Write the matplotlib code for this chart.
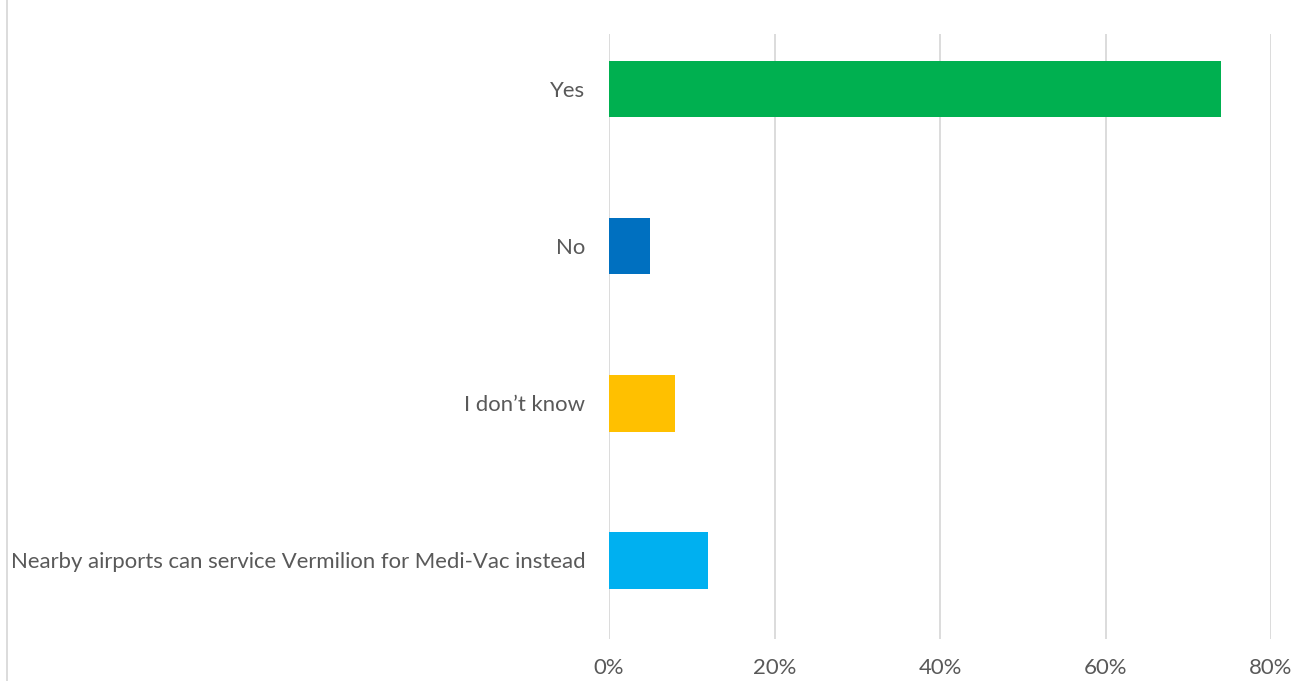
import matplotlib
matplotlib.use("Agg")
import matplotlib.pyplot as plt
import matplotlib.ticker as ticker
from matplotlib.lines import Line2D

# survey responses, top to bottom
answers = ["Yes", "No", "I don\u2019t know",
           "Nearby airports can service Vermilion for Medi-Vac instead"]
shares = [74, 5, 8, 12]
colors = ["#00B050", "#0070C0", "#FFC000", "#00B0F0"]
x_ticks = [0, 20, 40, 60, 80]

plt.rcParams["font.family"] = ["Lato", "DejaVu Sans"]

fig = plt.figure(figsize=(13.06, 6.81), dpi=100)
ax = fig.add_axes([609 / 1306, 42 / 681, 662 / 1306, 605 / 681])

pos = list(range(len(answers)))[::-1]
ax.barh(pos, [s / 100 for s in shares], height=0.36, color=colors, zorder=3)

ax.set_xlim(0, 0.8)
ax.set_ylim(-0.5, 3.35)
ax.set_yticks(pos)
ax.set_yticklabels(answers)
ax.xaxis.set_major_locator(ticker.FixedLocator([t / 100 for t in x_ticks]))
ax.xaxis.set_major_formatter(ticker.PercentFormatter(1.0, decimals=0))

ax.grid(axis="x", color="#D9D9D9", linewidth=1.3, zorder=0)
for side in ax.spines.values():
    side.set_visible(False)
ax.tick_params(axis="both", length=0, labelsize=15.9, colors="#595959")
ax.tick_params(axis="y", pad=17)
ax.tick_params(axis="x", pad=14)

# thin frame edge along the left side
fig.add_artist(Line2D([6.5 / 1306, 6.5 / 1306], [0, 1], color="#D9D9D9",
                      linewidth=1.3, transform=fig.transFigure))

fig.savefig("out.png", dpi=100, facecolor="white")
